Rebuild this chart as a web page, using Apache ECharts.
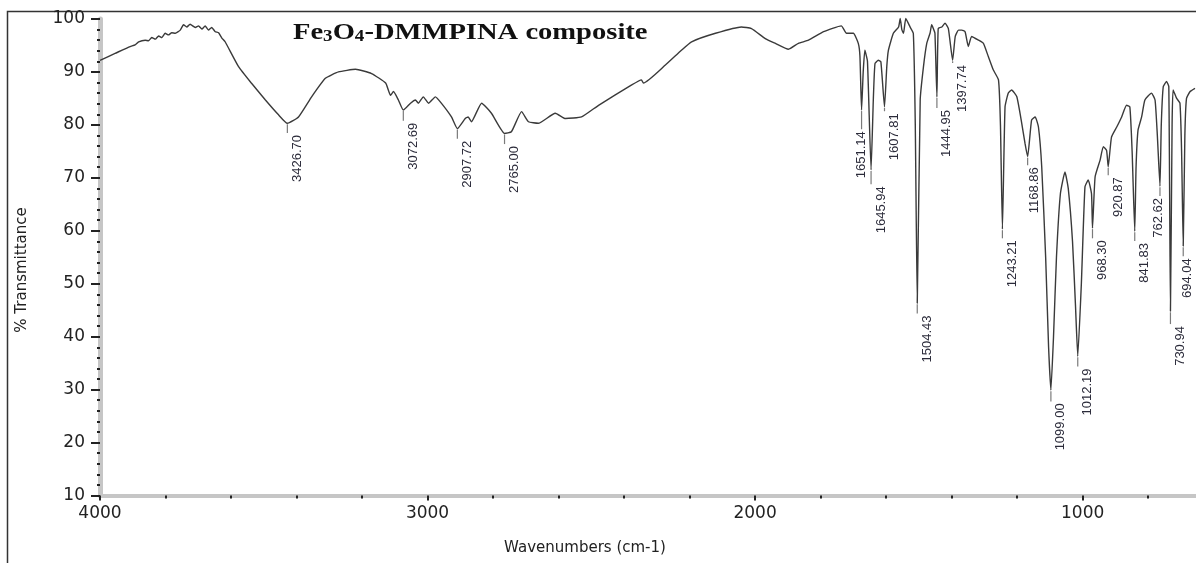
<!DOCTYPE html>
<html>
<head>
<meta charset="utf-8">
<script src="https://cdn.jsdelivr.net/npm/echarts@6/dist/echarts.min.js"></script>
<style>
html,body{margin:0;padding:0;background:#fff;}
#chart{width:1196px;height:563px;}
</style>
</head>
<body>
<div id="chart"></div>
<script>
// ---- data ----
const wavenumber = [4000,3954,3908,3893,3882,3862,3852,3842,3831,3821,3811,3801,3791,3781,3770,3755,3745,3735,3725,3709,3699,3689,3679,3669,3659,3648,3638,3628,3618,3577,3538,3495,3455,3428,3394,3354,3312,3272,3220,3171,3128,3113,3104,3089,3074,3052,3037,3028,3013,2997,2976,2958,2927,2909,2885,2876,2866,2835,2805,2765,2744,2713,2692,2662,2610,2579,2530,2478,2378,2347,2341,2274,2225,2194,2121,2042,2011,1969,1938,1898,1868,1837,1791,1737,1721,1700,1685,1680,1675,1670,1665,1657,1646,1639,1634,1624,1616,1605,1598,1593,1578,1562,1557,1552,1547,1540,1527,1517,1511,1505,1496,1486,1476,1466,1461,1456,1451,1445,1441,1430,1420,1410,1397,1389,1379,1369,1359,1349,1339,1318,1303,1288,1273,1257,1251,1245,1237,1227,1217,1201,1186,1176,1168,1156,1145,1135,1125,1113,1104,1097,1089,1080,1068,1054,1044,1031,1022,1015,1004,993,983,973,970,962,947,937,927,922,912,896,881,866,856,849,841,837,831,820,810,790,779,772,764,760,754,744,737,732,727,724,713,703,698,693,688,683,672,657];
const transmittance = [92.2,93.5,94.8,95.1,95.7,96.0,95.9,96.5,96.2,96.8,96.5,97.3,97.0,97.4,97.3,97.9,98.9,98.5,99.0,98.4,98.7,98.1,98.7,97.9,98.4,97.6,97.4,96.4,95.7,91.0,87.9,84.7,81.9,80.3,81.5,85.3,88.8,90.0,90.5,89.7,87.9,85.6,86.3,84.7,82.8,84.1,84.7,84.1,85.3,84.1,85.3,84.1,81.5,79.3,81.2,81.5,80.6,84.1,82.2,78.4,78.7,82.5,80.6,80.3,82.2,81.2,81.5,83.7,87.5,88.5,87.9,91.3,94.1,95.7,97.3,98.5,98.2,96.3,95.4,94.3,95.4,96.0,97.6,98.7,97.3,97.3,95.4,93.0,82.8,90.0,94.1,92.0,71.5,85.0,91.6,92.2,91.9,83.4,91.0,94.1,97.3,98.5,100.1,98.0,97.3,100.1,98.5,97.3,80.0,46.3,84.7,91.0,95.4,97.3,98.9,98.2,97.3,85.3,98.2,98.5,99.2,98.2,92.2,96.7,97.9,97.9,97.6,94.8,96.7,96.0,95.4,92.9,90.4,88.5,80.0,60.3,83.4,86.0,86.6,85.3,80.3,76.5,74.0,80.9,81.5,79.6,72.1,55.0,38.0,29.9,40.0,55.0,67.0,71.1,68.0,58.0,46.0,36.3,50.0,68.3,69.6,67.0,60.5,70.2,73.3,75.9,75.2,72.1,77.7,79.6,81.5,83.7,83.4,75.0,59.9,72.0,79.0,81.5,84.7,86.0,84.7,78.0,68.4,80.0,87.2,88.2,87.2,44.8,80.0,86.6,85.0,84.1,75.0,57.1,78.0,85.0,86.3,86.9];

const peakLabels = ['3426.70','3072.69','2907.72','2765.00','1651.14','1645.94','1607.81','1504.43','1444.95','1397.74','1243.21','1168.86','1099.00','1012.19','968.30','920.87','841.83','762.62','730.94','694.04'];
const peakPos = [3428,3074,2909,2765,1675,1646,1605,1505,1445,1397,1245,1168,1097,1015,970,922,841,764,732,693];
const peakMin = [80.3,82.8,79.3,78.4,82.8,71.5,83.4,46.3,85.3,92.2,60.3,74.0,29.9,36.3,60.5,72.1,59.9,68.4,44.8,57.1];
const peakLabelTop = [78.1,80.4,77.0,76.0,78.8,68.4,82.2,44.0,82.8,91.3,58.2,72.0,27.4,34.0,58.2,70.1,57.7,66.2,42.0,54.8];

const xTickLabels = [4000,3000,2000,1000];
const xMinorTicks = [4000,3800,3600,3400,3200,3000,2800,2600,2400,2200,2000,1800,1600,1400,1200,1000,800];

// ---- layout (pixels) ----
const labelShift = [3.5,3.5,3.5,3.5,-6.5,3.5,3.5,3.5,3.5,3.5,3.5,0,3.5,3.5,3.5,3.5,3.5,-8.5,3.5,-2.5];

const series = wavenumber.map((w,i)=>[w, transmittance[i]]);
const peakData = peakPos.map((p,i)=>[p, peakMin[i], peakLabelTop[i], i]);

const chart = echarts.init(document.getElementById('chart'), null, {renderer:'canvas'});
const tickFont = {fontFamily:'DejaVu Sans', fontSize:17, color:'#222'};

chart.setOption({
  backgroundColor:'#fff',
  animation:false,
  grid:{left:100, top:19, right:0, bottom:67.5, containLabel:false},
  xAxis:[{
    type:'value', inverse:true, min:654, max:4000,
    axisLine:{show:true, onZero:false, lineStyle:{color:'#c6c6c6', width:4}},
    axisTick:{show:true, customValues:xMinorTicks, length:3, lineStyle:{color:'#222', width:2}},
    axisLabel:{show:true, customValues:xTickLabels, margin:10, formatter:function(v){return String(v);}, ...tickFont},
    splitLine:{show:false}
  },{
    type:'value', inverse:true, min:654, max:4000, position:'bottom',
    axisLine:{show:false},
    axisTick:{show:true, customValues:xTickLabels, length:5, lineStyle:{color:'#222', width:2}},
    axisLabel:{show:false}, splitLine:{show:false}
  }],
  yAxis:{
    type:'value', min:10, max:100, interval:10,
    axisLine:{show:true, onZero:false, lineStyle:{color:'#c6c6c6', width:5}},
    axisTick:{show:true, length:9, lineStyle:{color:'#222', width:2}},
    minorTick:{show:true, splitNumber:5, length:3, lineStyle:{color:'#222', width:2}},
    axisLabel:{margin:15, formatter:function(v){return String(v);}, ...tickFont},
    splitLine:{show:false}
  },
  graphic:[
    {type:'rect', shape:{x:7.5, y:11.5, width:1300, height:700}, style:{fill:'none', stroke:'#333', lineWidth:1.5}, z:-1, silent:true},
    {type:'text', x:293, y:19, scaleX:1.19, z:10,
     style:{text:'{a|Fe}{s|3}{a|O}{s|4}{a|-DMMPINA composite}',
       rich:{
         a:{fontFamily:'Liberation Serif', fontWeight:'bold', fontSize:24, fill:'#111', lineHeight:26, verticalAlign:'bottom'},
         s:{fontFamily:'Liberation Serif', fontWeight:'bold', fontSize:16, fill:'#111', lineHeight:21, verticalAlign:'bottom'}
       }}},
    {type:'text', x:22, y:270, rotation:Math.PI/2,
     style:{text:'% Transmittance', fontFamily:'DejaVu Sans', fontSize:15, fill:'#222', align:'center', verticalAlign:'middle'}},
    {type:'text', x:585, y:548,
     style:{text:'Wavenumbers (cm-1)', fontFamily:'DejaVu Sans', fontSize:15, fill:'#222', align:'center', verticalAlign:'middle'}}
  ],
  series:[
    {type:'line', data:series, xAxisIndex:0, showSymbol:false, symbol:'none', clip:false, smooth:0.15,
     lineStyle:{color:'#3a3a3a', width:1.4}, z:3},
    {type:'custom', xAxisIndex:0, data:peakData, encode:{x:0, y:1}, z:2,
     renderItem:function(params, api){
       const idx = api.value(3);
       const p1 = api.coord([api.value(0), api.value(1)]);
       const p2 = api.coord([api.value(0), api.value(2)]);
       return {type:'group', children:[
         {type:'line', shape:{x1:p1[0], y1:p1[1]+1, x2:p1[0], y2:p2[1]-2}, style:{stroke:'#7a7a7a', lineWidth:1.2}},
         {type:'text', x:p1[0]+labelShift[idx], y:p2[1], rotation:Math.PI/2,
          style:{text:peakLabels[idx], fontFamily:'Liberation Sans Narrow, Liberation Sans', fontSize:13, fill:'#2b2b3a', align:'right', verticalAlign:'top'}}
       ]};
     }}
  ]
});
</script>
</body>
</html>
